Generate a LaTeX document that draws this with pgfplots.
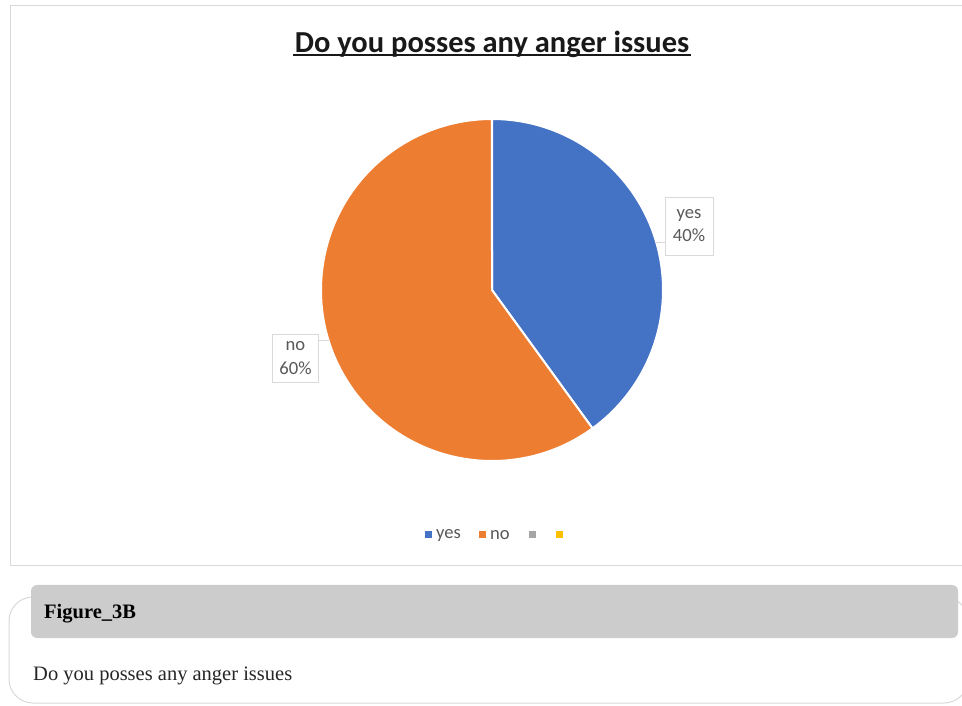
\documentclass[border=0pt]{standalone}
\usepackage{fontspec}
\setmainfont{Liberation Serif}
\newfontfamily\carlito{Carlito}
\usepackage{pgfplots}
\usepackage{pgfplotstable}
\pgfplotsset{compat=1.18}
\definecolor{yescol}{HTML}{4472C4}
\definecolor{nocol}{HTML}{ED7D31}
\definecolor{grcol}{HTML}{A5A5A5}
\definecolor{gdcol}{HTML}{FFC000}
\definecolor{txtgray}{HTML}{595959}
\definecolor{frame}{HTML}{D9D9D9}
\pgfplotstableread{
label value
yes 40
no 60
}\piedata
\pgfplotstablegetelem{0}{value}\of\piedata \let\vyes\pgfplotsretval
\pgfplotstablegetelem{1}{value}\of\piedata \let\vno\pgfplotsretval
\pgfmathsetmacro\aend{90-360*(\vyes/(\vyes+\vno))}
\pgfmathsetmacro\bend{\aend-360*(\vno/(\vyes+\vno))}
\begin{document}
\begin{tikzpicture}[x=1pt,y=1pt]
\useasboundingbox (0,0) rectangle (962,705);
% chart frame
\draw[frame, line width=1pt] (10,139) rectangle (963,699);
% title
\node[anchor=base, font=\carlito\bfseries\fontsize{30.5}{36}\selectfont, text=black!90, inner sep=0] at (492,652) {Do you posses any anger issues};
\draw[black!90, line width=2pt] (293,649.5) -- (691,649.5);
\begin{axis}[
  at={(321pt,244pt)}, anchor=south west,
  scale only axis, width=342pt, height=342pt,
  xmin=-1, xmax=1, ymin=-1, ymax=1,
  hide axis, clip=false]
\fill[yescol, draw=white, line width=2pt] (axis cs:0,0) -- (axis cs:0,1) arc[start angle=90, end angle=\aend, radius=171pt] -- cycle;
\fill[nocol, draw=white, line width=2pt] (axis cs:0,0) -- ([shift={(\aend:171pt)}]axis cs:0,0) arc[start angle=\aend, end angle=\bend, radius=171pt] -- cycle;
\end{axis}
% leader lines
\draw[frame, line width=0.8pt] (656,463) -- (665,463);
\draw[frame, line width=0.8pt] (319,365) -- (329,365);
% data labels
\node[draw=frame, fill=white, line width=0.8pt, minimum width=48pt, minimum height=58pt, align=center, text=txtgray, font=\carlito\fontsize{18.6}{23}\selectfont] at (689,479) {yes\\40\%};
\node[draw=frame, fill=white, line width=0.8pt, minimum width=46pt, minimum height=48pt, align=center, text=txtgray, font=\carlito\fontsize{18.6}{24}\selectfont] at (295.5,346.5) {no\\60\%};
% legend
\fill[yescol] (424.5,166.5) rectangle (431.5,173.5);
\node[anchor=west, inner sep=0, text=txtgray, font=\carlito\fontsize{18.6}{22}\selectfont] at (436,170) {yes};
\fill[nocol] (478.5,166.5) rectangle (485.5,173.5);
\node[anchor=west, inner sep=0, text=txtgray, font=\carlito\fontsize{18.6}{22}\selectfont] at (490,170) {no};
\fill[grcol] (528.5,166.5) rectangle (535.5,173.5);
\fill[gdcol] (555.5,166.5) rectangle (562.5,173.5);
% caption box
\draw[black!15, line width=1pt, rounded corners=24pt] (9,2) rectangle (968,108);
\fill[black!20, rounded corners=6pt] (31,67) rectangle (958,120);
\node[anchor=base west, inner sep=0, font=\bfseries\fontsize{20.5}{24}\selectfont] at (44,87) {Figure\_3B};
\node[anchor=base west, inner sep=0, text=black!85, font=\fontsize{20.5}{24}\selectfont] at (33,25) {Do you posses any anger issues};
\end{tikzpicture}
\end{document}
